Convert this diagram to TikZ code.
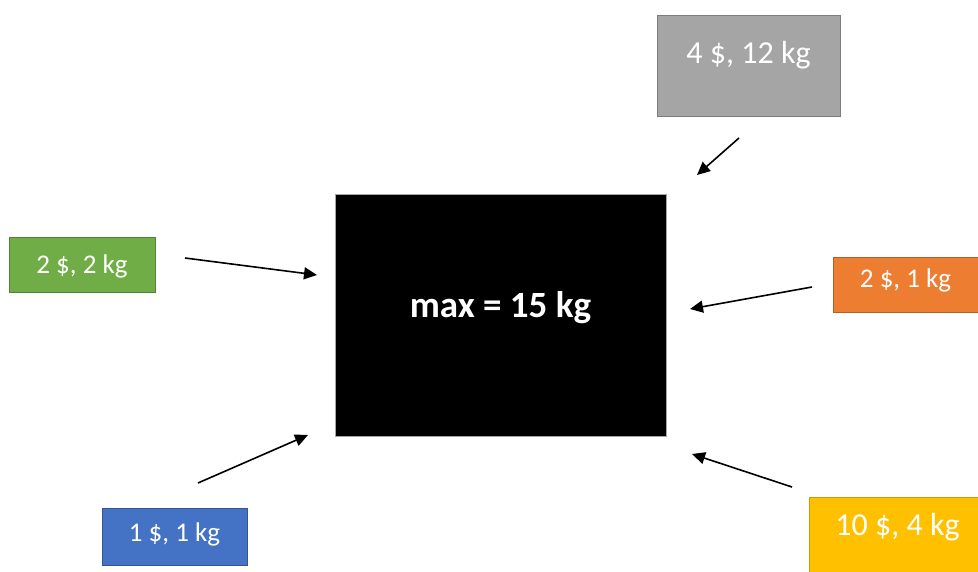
\documentclass[tikz,border=0pt]{standalone}
\usepackage{fontspec}
\setmainfont{Carlito}
\usetikzlibrary{arrows.meta}
\definecolor{vert}{HTML}{70AD47}
\definecolor{orange}{HTML}{ED7D31}
\definecolor{bleu}{HTML}{4472C4}
\definecolor{gris}{HTML}{A5A5A5}
\definecolor{jaune}{HTML}{FFC000}
\begin{document}
\begin{tikzpicture}[x=1pt,y=-1pt,
        objet/.style={draw,rectangle,anchor=north,inner xsep=0pt,inner ysep=0pt,text=white,line width=0.8pt,font=\fontsize{27}{31}\selectfont},
        fleche/.style={-{Triangle[length=13pt,width=12pt]},line width=1.6pt}]
        \clip (0,0) rectangle (978,572);
        \node[objet,fill=black,draw=gray!70,minimum width=331,text height=123,text depth=119,font=\bfseries\fontsize{37}{42}\selectfont] (Sac) at (500.5,194){max = 15 kg};
        \node[objet,fill=gris,draw=gris!75!black,minimum width=183,text height=48,text depth=53,font=\fontsize{32}{36}\selectfont] (Gris) at (748.5,15){4 \$, 12 kg};
        \node[objet,fill=vert,draw=vert!75!black,minimum width=146,text height=36,text depth=19] (Vert) at (82,237){2 \$, 2 kg};
        \node[objet,fill=orange,draw=orange!75!black,minimum width=145,text height=30,text depth=25] (Orange) at (905.5,257){2 \$, 1 kg};
        \node[objet,fill=bleu,draw=bleu!75!black,minimum width=145,text height=33,text depth=24] (Bleu) at (174.5,508){1 \$, 1 kg};
        \node[objet,fill=jaune,draw=jaune!80!black,minimum width=177,text height=38,text depth=55,font=\fontsize{32}{36}\selectfont] (Jaune) at (897.5,497){10 \$, 4 kg};
        \coordinate (G1) at (739,138);
        \coordinate (G2) at (697,175);
        \coordinate (V1) at (185,258);
        \coordinate (V2) at (317,275);
        \coordinate (O1) at (812,287);
        \coordinate (O2) at (690,309);
        \coordinate (B1) at (198,483);
        \coordinate (B2) at (308,435);
        \coordinate (J1) at (792,487);
        \coordinate (J2) at (692,454);
        \draw[fleche] (G1) to (G2);
        \draw[fleche] (V1) to (V2);
        \draw[fleche] (O1) to (O2);
        \draw[fleche] (B1) to (B2);
        \draw[fleche] (J1) to (J2);
    \end{tikzpicture}
\end{document}
